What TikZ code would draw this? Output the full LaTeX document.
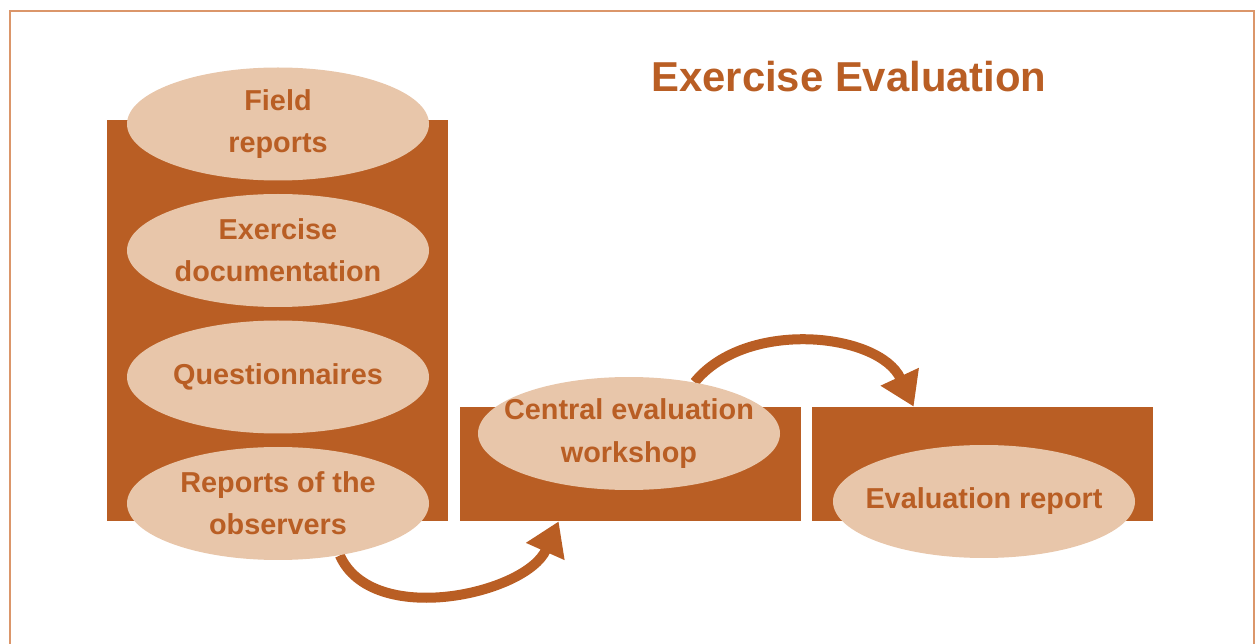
\documentclass[tikz,border=0pt]{standalone}
\usepackage{fontspec}
\setmainfont{Liberation Sans}
\usepackage{tikz}
\usetikzlibrary{shapes.geometric,arrows.meta,backgrounds}
\tikzstyle{block} = [rectangle, fill=rust, inner sep=0pt, minimum width=6.82cm]
\tikzstyle{source} = [ellipse, fill=sand, inner xsep=-0.7cm, inner ysep=-0.3cm, minimum width=6.04cm, minimum height=2.26cm, text=rust, align=center, font=\bfseries\fontsize{16.4}{24}\selectfont]
\tikzstyle{flow} = [rust, line width=0.2cm, -{Triangle[width=0.8cm,length=0.66cm]}]
\tikzstyle{frame} = [draw=framecol, line width=0.04cm]
\definecolor{rust}{RGB}{185,94,36}
\definecolor{sand}{RGB}{232,198,170}
\definecolor{framecol}{RGB}{219,150,106}

\begin{document}
\begin{tikzpicture}[node distance=2.53cm]
\useasboundingbox (0,0) rectangle (25.1,-12.88);
\draw[frame] (0.2,-12.88) |- (25.07,-0.22) -- (25.07,-12.88);
\node (title) at (16.98,-1.54) [text=rust, font=\bfseries\fontsize{23.8}{28}\selectfont] {Exercise Evaluation};
\node (inbox) at (5.55,-6.41) [block, minimum height=8.02cm] {};
\node (wbox) at (12.61,-9.28) [block, minimum height=2.28cm] {};
\node (rbox) at (19.65,-9.28) [block, minimum height=2.28cm] {};
\node (field) at (5.56,-2.48) [source] {Field\\reports};
\node (doc) [source, below of=field] {Exercise\\documentation};
\node (quest) [source, below of=doc] {Questionnaires};
\node (obs) [source, below of=quest] {Reports of the\\observers};
\node (work) [source, right of=obs, xshift=4.49cm, yshift=1.40cm] {Central evaluation\\workshop};
\node (report) [source, right of=work, xshift=4.57cm, yshift=-1.36cm] {Evaluation report};
\begin{scope}[on background layer]
\draw[flow] (obs.-40) to[out=-66, in=-114, looseness=0.92] ([xshift=1.98cm]wbox.south west);
\draw[flow] (work.38) to[out=51, in=115, looseness=0.95] ([xshift=2.04cm]rbox.north west);
\end{scope}
\end{tikzpicture}
\end{document}
